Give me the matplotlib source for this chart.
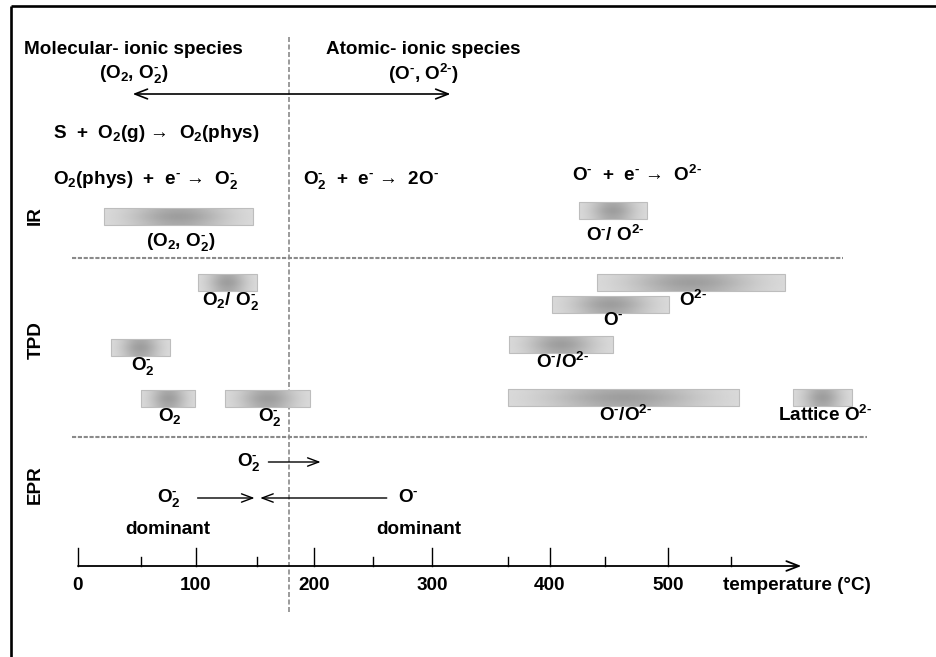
import numpy as np
import matplotlib
matplotlib.use('Agg')
import matplotlib.pyplot as plt

plt.rcParams['font.family'] = ['Liberation Sans', 'DejaVu Sans']
plt.rcParams['font.weight'] = 'bold'
plt.rcParams['mathtext.fontset'] = 'custom'
plt.rcParams['mathtext.rm'] = 'Liberation Sans:bold'
plt.rcParams['mathtext.bf'] = 'Liberation Sans:bold'
plt.rcParams['mathtext.it'] = 'Liberation Sans:bold'
plt.rcParams['mathtext.default'] = 'bf'

H = '\u2010'  # short hyphen used as charge sign

# temperature ranges (deg C) of the observed species
ir_start = [22, 425]
ir_end = [148, 482]
ir_labels = ['(O$_2$, O$_2^{%s}$)' % H, 'O$^{%s}$/ O$^{2%s}$' % (H, H)]

tpd_start = [102, 28, 53, 125, 440, 402, 365, 364, 606]
tpd_end = [152, 78, 99, 197, 599, 501, 453, 560, 656]
tpd_labels = ['O$_2$/ O$_2^{%s}$' % H, 'O$_2^{%s}$' % H, 'O$_2$', 'O$_2^{%s}$' % H,
              'O$^{2%s}$' % H, 'O$^{%s}$' % H, 'O$^{%s}$/O$^{2%s}$' % (H, H),
              'O$^{%s}$/O$^{2%s}$' % (H, H), 'Lattice O$^{2%s}$' % H]
tpd_level = [274, 339, 390, 390, 274, 296, 336, 389, 389]

epr_up = [159, 208]          # O2- appears above ~160 C
epr_cross = [99, 152, 264]   # O2- dominant / crossover / O- dominant

major_ticks = [0, 100, 200, 300, 400, 500]
minor_ticks = [53, 152, 250, 364, 447, 553]
t_split = 179

fs = 13.6
bar_h = 17


def grad_bar(ax, t0, t1, y):
    xx = np.linspace(0, 1, 200)
    yy = np.linspace(0, 1, 20)
    X, Y = np.meshgrid(xx, yy)
    g = np.exp(-((X - 0.5) / 0.32) ** 2) * (0.8 + 0.2 * np.exp(-((Y - 0.5) / 0.35) ** 2))
    img = 0.87 - 0.25 * g
    ax.imshow(img, cmap='gray', vmin=0, vmax=1, extent=[t0, t1, y + bar_h, y],
              aspect='auto', interpolation='bilinear', zorder=2)
    ax.add_patch(plt.Rectangle((t0, y), t1 - t0, bar_h, fill=False,
                               edgecolor='#bdbdbd', lw=0.8, zorder=3))


fig = plt.figure(figsize=(9.37, 6.57), dpi=100)
ax = fig.add_axes([0, 0, 1, 1])
ax.axis('off')

# frame
ax.plot([-57, 760], [6, 6], color='k', lw=1.9, solid_capstyle='butt')
ax.plot([-56.8, -56.8], [6, 660], color='k', lw=1.9, solid_capstyle='butt')

# separators
ax.plot([t_split, t_split], [37, 612], color='#8a8a8a', lw=1.2, ls=(0, (3, 1.5)))
ax.plot([-5, 648], [258, 258], color='#8a8a8a', lw=1.5, ls=(0, (2, 0.8)))
ax.plot([-5, 669], [437, 437], color='#8a8a8a', lw=1.5, ls=(0, (2, 0.8)))

# header
ax.text(-46, 49, 'Molecular- ionic species', fontsize=fs, ha='left', va='center')
ax.text(47, 74, '(O$_2$, O$_2^{%s}$)' % H, fontsize=fs, ha='center', va='center')
ax.text(210, 49, 'Atomic- ionic species', fontsize=fs, ha='left', va='center')
ax.text(293, 74, '(O$^{%s}$, O$^{2%s}$)' % (H, H), fontsize=fs, ha='center', va='center')
ax.annotate('', xy=(44, 94), xytext=(318, 94),
            arrowprops=dict(arrowstyle='<->,head_length=0.9,head_width=0.35', lw=1.2, color='k'))

# reactions
ax.text(-21, 134, 'S  +  O$_2$(g) \u2192  O$_2$(phys)', fontsize=fs, ha='left', va='center')
ax.text(-21, 180, 'O$_2$(phys)  +  e$^{%s}$ \u2192  O$_2^{%s}$' % (H, H), fontsize=fs,
        ha='left', va='center')
ax.text(191, 180, 'O$_2^{%s}$  +  e$^{%s}$ \u2192  2O$^{%s}$' % (H, H, H), fontsize=fs,
        ha='left', va='center')
ax.text(419, 175, 'O$^{%s}$  +  e$^{%s}$ \u2192  O$^{2%s}$' % (H, H, H), fontsize=fs,
        ha='left', va='center')

# row labels
ax.text(-36, 216, 'IR', fontsize=fs, rotation=90, ha='center', va='center')
ax.text(-35, 340, 'TPD', fontsize=fs, rotation=90, ha='center', va='center')
ax.text(-36, 485, 'EPR', fontsize=fs, rotation=90, ha='center', va='center')

# IR bars
ir_level = [208, 202]
for t0, t1, lab, y in zip(ir_start, ir_end, ir_labels, ir_level):
    grad_bar(ax, t0, t1, y)
    ax.text((t0 + t1) / 2 + 2, y + bar_h + 6, lab, fontsize=fs, ha='center', va='top')

# TPD bars
for t0, t1, lab, y in zip(tpd_start, tpd_end, tpd_labels, tpd_level):
    grad_bar(ax, t0, t1, y)
    ax.text((t0 + t1) / 2 + 2, y + bar_h - 1, lab, fontsize=fs, ha='center', va='top')

# EPR
arr = dict(arrowstyle='->,head_length=0.8,head_width=0.3', lw=1.0, color='k')
ax.annotate('', xy=(epr_up[1], 462), xytext=(epr_up[0], 462), arrowprops=arr)
ax.text(epr_up[0] - 4, 462, 'O$_2^{%s}$' % H, fontsize=fs, ha='right', va='center')
ax.annotate('', xy=(epr_cross[1], 498), xytext=(epr_cross[0], 498), arrowprops=arr)
ax.annotate('', xy=(epr_cross[1], 498), xytext=(epr_cross[2], 498), arrowprops=arr)
ax.text(epr_cross[0] - 12, 498, 'O$_2^{%s}$' % H, fontsize=fs, ha='right', va='center')
ax.text(epr_cross[2] + 7, 498, 'O$^{%s}$' % H, fontsize=fs, ha='left', va='center')
ax.text(76, 530, 'dominant', fontsize=fs, ha='center', va='center')
ax.text(289, 530, 'dominant', fontsize=fs, ha='center', va='center')

# temperature axis
ax.annotate('', xy=(613, 566), xytext=(0, 566),
            arrowprops=dict(arrowstyle='->,head_length=0.9,head_width=0.35', lw=1.3, color='k',
                            shrinkA=0, shrinkB=0))
for t in major_ticks:
    ax.plot([t, t], [566, 548], color='k', lw=1.0)
    ax.text(t, 586, str(t), fontsize=fs, ha='center', va='center')
for t in minor_ticks:
    ax.plot([t, t], [566, 557], color='k', lw=1.0)
ax.text(547, 586, 'temperature (\u00b0C)', fontsize=fs, ha='left', va='center')

ax.set_xlim(-78 / 1.18, (937 - 78) / 1.18)
ax.set_ylim(657, 0)

plt.savefig('out.png', dpi=100)
